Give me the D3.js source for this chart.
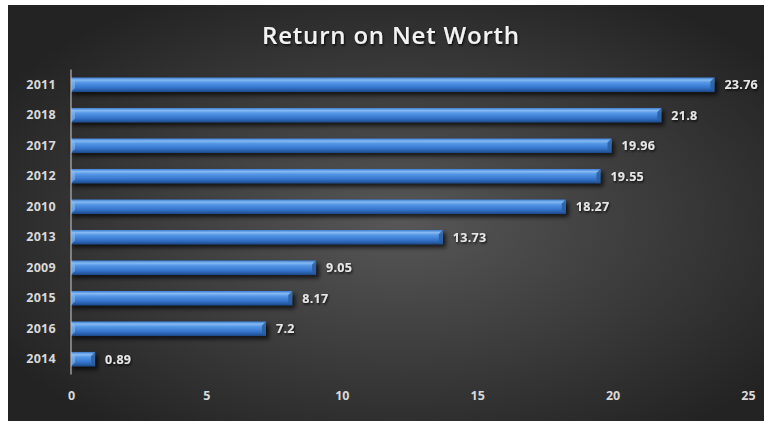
<!DOCTYPE html>
<html>
<head>
<meta charset="utf-8">
<script src="https://cdn.jsdelivr.net/npm/d3@7"></script>
<style>
  html, body { margin: 0; padding: 0; background: #ffffff; }
  svg { display: block; }
  text { font-family: "Open Sans", "Lato", sans-serif; }
</style>
</head>
<body>
<svg id="chart" width="764" height="421"></svg>
<script>
// Return on Net Worth by year, sorted largest to smallest
const years = ["2011", "2018", "2017", "2012", "2010", "2013", "2009", "2015", "2016", "2014"];
const values = [23.76, 21.8, 19.96, 19.55, 18.27, 13.73, 9.05, 8.17, 7.2, 0.89];
const xTicks = [0, 5, 10, 15, 20, 25];
const title = "Return on Net Worth";

const W = 764, H = 421;
const panel = { x: 8, y: 5, w: W - 8, h: H - 5 };
const plot = { left: 71, right: 748, top: 69.5, bottom: 374.5 };

const svg = d3.select("#chart");
const defs = svg.append("defs");

// Panel background: soft spotlight in the middle, dark toward the edges
const bg = defs.append("radialGradient").attr("id", "bgGrad")
  .attr("cx", "52%").attr("cy", "52%").attr("r", "62%");
bg.append("stop").attr("offset", "0%").attr("stop-color", "#575757");
bg.append("stop").attr("offset", "55%").attr("stop-color", "#3b3b3b");
bg.append("stop").attr("offset", "100%").attr("stop-color", "#232323");

// Bar body: bevelled blue, light along the top and dark along the bottom
const barGrad = defs.append("linearGradient").attr("id", "barGrad")
  .attr("x1", 0).attr("y1", 0).attr("x2", 0).attr("y2", 1);
barGrad.append("stop").attr("offset", "0%").attr("stop-color", "#3a7bd0");
barGrad.append("stop").attr("offset", "18%").attr("stop-color", "#86baf2");
barGrad.append("stop").attr("offset", "35%").attr("stop-color", "#5597e6");
barGrad.append("stop").attr("offset", "70%").attr("stop-color", "#3474cc");
barGrad.append("stop").attr("offset", "100%").attr("stop-color", "#1c4886");

const shadow = defs.append("filter").attr("id", "barShadow")
  .attr("x", "-5%").attr("y", "-50%").attr("width", "110%").attr("height", "220%");
shadow.append("feGaussianBlur").attr("stdDeviation", 2.2);

const textShadow = defs.append("filter").attr("id", "txtShadow")
  .attr("x", "-10%").attr("y", "-30%").attr("width", "120%").attr("height", "160%");
textShadow.append("feDropShadow").attr("dx", 1).attr("dy", 1.5)
  .attr("stdDeviation", 1.2).attr("flood-color", "#000").attr("flood-opacity", 0.8);

svg.append("rect")
  .attr("x", panel.x).attr("y", panel.y).attr("width", panel.w).attr("height", panel.h)
  .attr("fill", "url(#bgGrad)");

svg.append("text")
  .attr("x", 391).attr("y", 44)
  .attr("text-anchor", "middle")
  .attr("font-size", 24).attr("font-weight", 600)
  .attr("letter-spacing", 0.8)
  .attr("fill", "#f2f2f2")
  .attr("filter", "url(#txtShadow)")
  .text(title);

const x = d3.scaleLinear().domain([0, 25]).range([plot.left, plot.right]);
const y = d3.scaleBand().domain(years).range([plot.top, plot.bottom]).paddingInner(0.52).paddingOuter(0.26);

const data = years.map((yr, i) => ({ year: yr, value: values[i] }));
const bh = y.bandwidth();

// Drop shadows under the bars
svg.append("g").selectAll("rect").data(data).join("rect")
  .attr("x", x(0) + 1)
  .attr("y", d => y(d.year) + 3)
  .attr("width", d => x(d.value) - x(0) + 2)
  .attr("height", bh)
  .attr("fill", "#000").attr("opacity", 0.7)
  .attr("filter", "url(#barShadow)");

const bars = svg.append("g").selectAll("g").data(data).join("g");

bars.append("rect")
  .attr("x", x(0))
  .attr("y", d => y(d.year))
  .attr("width", d => x(d.value) - x(0))
  .attr("height", bh)
  .attr("fill", "url(#barGrad)");

// Bevelled end caps
const bev = 4;
bars.append("path")
  .attr("d", d => {
    const x1 = x(d.value), y0 = y(d.year);
    return `M${x1},${y0} L${x1 - bev},${y0 + bev} L${x1 - bev},${y0 + bh - bev} L${x1},${y0 + bh} Z`;
  })
  .attr("fill", "#2a5e9f").attr("opacity", 0.85);
bars.append("path")
  .attr("d", d => {
    const x0 = x(0), y0 = y(d.year);
    return `M${x0},${y0} L${x0 + bev},${y0 + bev} L${x0 + bev},${y0 + bh - bev} L${x0},${y0 + bh} Z`;
  })
  .attr("fill", "#8fc0f2").attr("opacity", 0.55);

// Value labels
svg.append("g").selectAll("text").data(data).join("text")
  .attr("x", d => x(d.value) + 10)
  .attr("y", d => y(d.year) + bh / 2)
  .attr("dy", "0.36em")
  .attr("font-size", 12.5).attr("font-weight", 700)
  .attr("letter-spacing", 0.3)
  .attr("fill", "#e6e6e6")
  .attr("filter", "url(#txtShadow)")
  .text(d => d.value);

// Category axis
const yAxis = svg.append("g").attr("transform", `translate(${plot.left},0)`)
  .call(d3.axisLeft(y).tickSize(0).tickPadding(15));
yAxis.select(".domain").attr("stroke", "#b8b8b8").attr("stroke-width", 1.2)
  .attr("d", `M0,${plot.top}V${plot.bottom}`);
yAxis.selectAll("text")
  .attr("font-size", 12.5).attr("font-weight", 700)
  .attr("letter-spacing", 0.3)
  .attr("fill", "#d9d9d9")
  .attr("font-family", "'Open Sans', 'Lato', sans-serif");

// Value axis (labels only)
const xAxis = svg.append("g").attr("transform", `translate(0,${plot.bottom})`)
  .call(d3.axisBottom(x).tickValues(xTicks).tickSize(0).tickPadding(17));
xAxis.select(".domain").remove();
xAxis.selectAll("text")
  .attr("font-size", 12.5).attr("font-weight", 700)
  .attr("fill", "#d9d9d9")
  .attr("font-family", "'Open Sans', 'Lato', sans-serif");
</script>
</body>
</html>
